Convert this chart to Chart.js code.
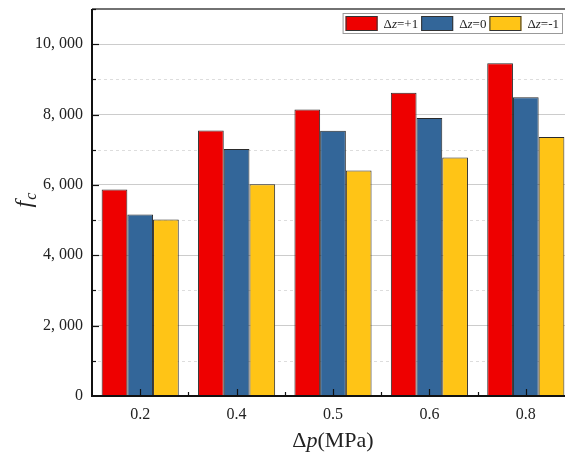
<!DOCTYPE html>
<html>
<head>
<meta charset="utf-8">
<script src="https://cdn.jsdelivr.net/npm/chart.js@4.4.0/dist/chart.umd.min.js"></script>
<style>
  html, body { margin: 0; padding: 0; background: #fff; overflow: hidden; }
  #wrap { width: 565px; height: 458px; overflow: hidden; }
</style>
</head>
<body>
<div id="wrap"><canvas id="chart" width="590" height="458"></canvas></div>
<script>
// data
const categories = ['0.2', '0.4', '0.5', '0.6', '0.8'];
const seriesPlus1 = [5870, 7550, 8140, 8620, 9460];
const seriesZero = [5160, 7020, 7540, 7900, 8490];
const seriesMinus1 = [5020, 6020, 6410, 6780, 7360];
const seriesNames = ['+1', '0', '-1'];
const colors = ['#ee0000', '#336699', '#ffc416'];
const yMax = 11000;
const yStep = 1000;

const serif = '"Liberation Serif", "DejaVu Serif", serif';

function fmt(v) {
    if (v < 1000) return String(v);
    const s = String(v);
    return s.slice(0, s.length - 3) + ', ' + s.slice(-3);
}

// minor grid, inward ticks, frame, titles, legend
const framePlugin = {
    id: 'frame',
    beforeDatasetsDraw(chart) {
        const { ctx, chartArea: a, scales } = chart;
        const y = scales.y;
        ctx.save();
        ctx.strokeStyle = '#dddddd';
        ctx.lineWidth = 1;
        ctx.setLineDash([3, 3]);
        for (let v = yStep; v < yMax; v += 2 * yStep) {
            const py = Math.round(y.getPixelForValue(v)) + 0.5;
            ctx.beginPath();
            ctx.moveTo(a.left, py);
            ctx.lineTo(a.right, py);
            ctx.stroke();
        }
        ctx.restore();
    },
    afterDraw(chart) {
        const { ctx, chartArea: a, scales } = chart;
        const x = scales.x, y = scales.y;
        ctx.save();
        // top / right frame
        ctx.strokeStyle = '#444';
        ctx.lineWidth = 1.5;
        ctx.beginPath();
        ctx.moveTo(a.left, a.top);
        ctx.lineTo(a.right, a.top);
        ctx.lineTo(a.right, a.bottom);
        ctx.stroke();
        // axes
        ctx.strokeStyle = '#111';
        ctx.lineWidth = 2;
        ctx.beginPath();
        ctx.moveTo(a.left, a.top);
        ctx.lineTo(a.left, a.bottom);
        ctx.lineTo(a.right, a.bottom);
        ctx.stroke();
        // y ticks (inward)
        ctx.lineWidth = 1.2;
        for (let v = yStep; v <= yMax; v += yStep) {
            const py = Math.round(y.getPixelForValue(v)) + 0.5;
            const len = (v % (2 * yStep) === 0) ? 7 : 4;
            ctx.beginPath();
            ctx.moveTo(a.left, py);
            ctx.lineTo(a.left + len, py);
            ctx.stroke();
        }
        // x ticks (inward): major at centres, minor at boundaries
        for (let i = 0; i < categories.length; i++) {
            const px = Math.round(x.getPixelForValue(i)) + 0.5;
            ctx.beginPath();
            ctx.moveTo(px, a.bottom);
            ctx.lineTo(px, a.bottom - 7);
            ctx.stroke();
            if (i > 0) {
                const mx = Math.round((x.getPixelForValue(i) + x.getPixelForValue(i - 1)) / 2) + 0.5;
                ctx.beginPath();
                ctx.moveTo(mx, a.bottom);
                ctx.lineTo(mx, a.bottom - 4);
                ctx.stroke();
            }
        }
        // axis titles
        ctx.fillStyle = '#222';
        ctx.textBaseline = 'alphabetic';
        const cx = (a.left + a.right) / 2;
        ctx.font = '22px ' + serif;
        const w1 = ctx.measureText('\u0394').width;
        const w3 = ctx.measureText('(MPa)').width;
        ctx.font = 'italic 22px ' + serif;
        const w2 = ctx.measureText('p').width;
        let tx = cx - (w1 + w2 + w3) / 2;
        const ty = 447;
        ctx.textAlign = 'left';
        ctx.font = '22px ' + serif;
        ctx.fillText('\u0394', tx, ty);
        ctx.font = 'italic 22px ' + serif;
        ctx.fillText('p', tx + w1, ty);
        ctx.font = '22px ' + serif;
        ctx.fillText('(MPa)', tx + w1 + w2, ty);

        ctx.save();
        ctx.translate(31, (a.top + a.bottom) / 2 + 5);
        ctx.rotate(-Math.PI / 2);
        ctx.font = 'italic 24px ' + serif;
        ctx.fillText('f', 0, 0);
        const fw = ctx.measureText('f').width;
        ctx.font = 'italic 16px ' + serif;
        ctx.fillText('c', fw + 1, 5);
        ctx.restore();

        // legend
        const fs = 13;
        const items = chart.data.datasets.map((ds, i) => {
            ctx.font = fs + 'px ' + serif;
            const wd = ctx.measureText('\u0394').width;
            const wr = ctx.measureText('=' + seriesNames[i]).width;
            ctx.font = 'italic ' + fs + 'px ' + serif;
            const wz = ctx.measureText('z').width;
            return { ds, i, wd, wz, wr, w: 39 + wd + wz + wr + 2 };
        });
        const total = items.reduce((s, it) => s + it.w, 0) + 3;
        const lx = 562 - total, ly = 13, lh = 20;
        ctx.fillStyle = '#fff';
        ctx.fillRect(lx, ly, total, lh);
        ctx.strokeStyle = '#999';
        ctx.lineWidth = 1;
        ctx.strokeRect(lx + 0.5, ly + 0.5, total, lh);
        let sx = lx + 3;
        items.forEach((it) => {
            ctx.fillStyle = it.ds.backgroundColor;
            ctx.fillRect(sx, ly + 3, 32, 15);
            ctx.strokeStyle = '#333';
            ctx.strokeRect(sx + 0.5, ly + 3.5, 31, 14);
            let t = sx + 38;
            const by = ly + 15;
            ctx.fillStyle = '#222';
            ctx.font = fs + 'px ' + serif;
            ctx.fillText('\u0394', t, by);
            t += it.wd;
            ctx.font = 'italic ' + fs + 'px ' + serif;
            ctx.fillText('z', t, by);
            t += it.wz;
            ctx.font = fs + 'px ' + serif;
            ctx.fillText('=' + seriesNames[it.i], t, by);
            sx += it.w;
        });
        ctx.restore();
    }
};

function makeDataset(values, i) {
    return {
        label: '\u0394z=' + seriesNames[i],
        data: values,
        backgroundColor: colors[i],
        borderColor: '#2a2a2a',
        borderWidth: 1,
        categoryPercentage: 0.8,
        barPercentage: 1.0
    };
}

new Chart(document.getElementById('chart'), {
    type: 'bar',
    data: {
        labels: categories,
        datasets: [
            makeDataset(seriesPlus1, 0),
            makeDataset(seriesZero, 1),
            makeDataset(seriesMinus1, 2)
        ]
    },
    options: {
        responsive: false,
        animation: false,
        layout: { padding: { left: 0, top: 9, right: 16, bottom: 0 } },
        plugins: {
            legend: { display: false },
            tooltip: { enabled: false }
        },
        scales: {
            x: {
                grid: { display: false, drawTicks: false },
                border: { display: false },
                ticks: {
                    color: '#222',
                    padding: 9,
                    font: { family: serif, size: 16 }
                },
                afterFit(scale) {
                    scale.height = 62;
                    scale.paddingLeft = 0;
                    scale.paddingRight = 0;
                }
            },
            y: {
                min: 0,
                max: yMax,
                grid: {
                    drawTicks: false,
                    color: (c) => (c.tick && c.tick.value % (2 * yStep) === 0 && c.tick.value > 0) ? '#cccccc' : 'rgba(0,0,0,0)',
                    lineWidth: 1
                },
                border: { display: false },
                ticks: {
                    stepSize: yStep,
                    color: '#222',
                    padding: 9,
                    font: { family: serif, size: 16 },
                    callback: (v) => (v % (2 * yStep) === 0) ? fmt(v) : ''
                },
                afterFit(scale) {
                    scale.width = 92;
                    scale.paddingTop = 0;
                    scale.paddingBottom = 0;
                }
            }
        }
    },
    plugins: [framePlugin]
});
</script>
</body>
</html>
